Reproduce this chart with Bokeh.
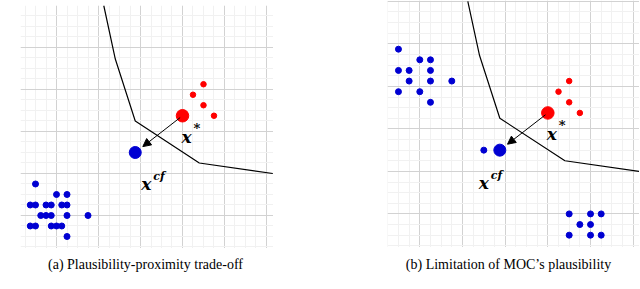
from bokeh.plotting import figure
from bokeh.layouts import row, column
from bokeh.models import Range1d, FixedTicker, Spacer, Arrow, NormalHead
from bokeh.core.properties import value
from bokeh.embed import file_html
from bokeh.resources import INLINE

# ---------------- data ----------------
# decision boundary (shared by both panels)
boundary_x = [8.5, 9.6, 11.5, 17.6, 24.6]
boundary_y = [24.0, 18.9, 13.0, 9.0, 8.0]

# factual class (red) neighbours and the query point x*
red_x = [18, 17, 18, 19]
red_y = [16.5, 15.5, 14.5, 13.5]
x_star = (16.0, 13.5)

# counterfactual x^cf
x_cf = (11.5, 10.0)

# panel (a): blue class cluster in lower-left
blue_a_x = [2, 4, 5, 1.5, 2, 3, 3.5, 4.5, 5, 2.5, 3, 3.5, 5, 7, 1.5, 2, 3.5, 4, 4.5, 5]
blue_a_y = [7, 6, 6, 5, 5, 5, 5, 5, 5, 4, 4, 4, 4, 4, 3, 3, 3, 3, 3, 2]

# panel (b): blue clusters top-left, bottom-right, plus one near x^cf
blue_b_x = [2, 4, 5, 2, 3, 5, 3, 5, 7, 2, 4, 5,
            18, 20, 21, 19, 20, 18, 20, 21, 10]
blue_b_y = [19.5, 18.5, 18.5, 17.5, 17.5, 17.5, 16.5, 16.5, 16.5, 15.5, 15.5, 14.5,
            4, 4, 4, 3, 3, 2, 2, 2, 10]

major_ticks = [4, 8, 12, 16, 20, 24]
minor_ticks = list(range(0, 26))

captions = ["(a) Plausibility-proximity trade-off", "(b) Limitation of MOC\u2019s plausibility"]

BLUE = "#0000d2"
RED = "#ff0000"
MATH_FONT = value("DejaVu Serif")


def panel(width, height, xr, yr, blue_x, blue_y, cf_label_offsets):
    p = figure(width=width, height=height, x_range=Range1d(*xr), y_range=Range1d(*yr),
               output_backend="svg", toolbar_location=None, min_border=0,
               x_axis_location=None, y_axis_location=None, outline_line_color=None,
               background_fill_color="white", border_fill_color="white")
    ticker = FixedTicker(ticks=major_ticks, minor_ticks=minor_ticks)
    p.xgrid.ticker = ticker
    p.ygrid.ticker = ticker
    for g in (p.xgrid, p.ygrid):
        g.grid_line_color = "#d2d2d2"
        g.grid_line_width = 1
        g.minor_grid_line_color = "#f1f1f1"
        g.minor_grid_line_width = 1

    p.line(boundary_x, boundary_y, line_color="black", line_width=1.2)

    p.scatter(blue_x, blue_y, size=6, color=BLUE)
    p.scatter(red_x, red_y, size=5.5, color=RED)
    p.scatter([x_star[0]], [x_star[1]], size=12.5, color=RED)
    p.scatter([x_cf[0]], [x_cf[1]], size=12, color=BLUE)

    # arrow from x* to x^cf, trimmed at both marker edges
    dx, dy = x_cf[0] - x_star[0], x_cf[1] - x_star[1]
    p.add_layout(Arrow(end=NormalHead(size=8, fill_color="black", line_color="black"),
                       x_start=x_star[0] + 0.05 * dx, y_start=x_star[1] + 0.05 * dy,
                       x_end=x_star[0] + 0.84 * dx, y_end=x_star[1] + 0.84 * dy,
                       line_color="black", line_width=1))

    # labels x* and x^cf
    p.text([x_star[0]], [x_star[1]], text=["x"], x_offset=-1, y_offset=21,
           text_font=MATH_FONT, text_font_style="bold italic", text_font_size="17px",
           text_baseline="alphabetic", text_color="black")
    p.text([x_star[0]], [x_star[1]], text=["*"], x_offset=11, y_offset=13,
           text_font=MATH_FONT, text_font_style="bold", text_font_size="13px",
           text_baseline="alphabetic", text_color="black")
    ox, oy = cf_label_offsets
    p.text([x_cf[0]], [x_cf[1]], text=["x"], x_offset=ox, y_offset=oy,
           text_font=MATH_FONT, text_font_style="bold italic", text_font_size="17px",
           text_baseline="alphabetic", text_color="black")
    p.text([x_cf[0]], [x_cf[1]], text=["cf"], x_offset=ox + 12, y_offset=oy - 8,
           text_font=MATH_FONT, text_font_style="bold italic", text_font_size="11px",
           text_baseline="alphabetic", text_color="black")
    return p


pa = panel(253, 243, (0.571, 24.667), (0.857, 24.0), blue_a_x, blue_a_y, (6, 32))
pb = panel(252, 247, (0.973, 24.59), (0.84, 24.08), blue_b_x, blue_b_y, (-21, 33))

cap = figure(width=639, height=40, x_range=Range1d(0, 639), y_range=Range1d(40, 0),
             output_backend="svg", toolbar_location=None, min_border=0,
             x_axis_location=None, y_axis_location=None, outline_line_color=None)
cap.xgrid.visible = False
cap.ygrid.visible = False
cap.text([145, 508], [16, 16], text=captions, text_font=value("Liberation Serif"),
         text_font_size="14px", text_align="center", text_baseline="alphabetic",
         text_color="black")

layout = column(
    row(Spacer(width=20, height=248),
        column(Spacer(width=253, height=5), pa),
        Spacer(width=114, height=248),
        pb),
    cap)

open("out.html", "w").write(file_html(layout, INLINE))
